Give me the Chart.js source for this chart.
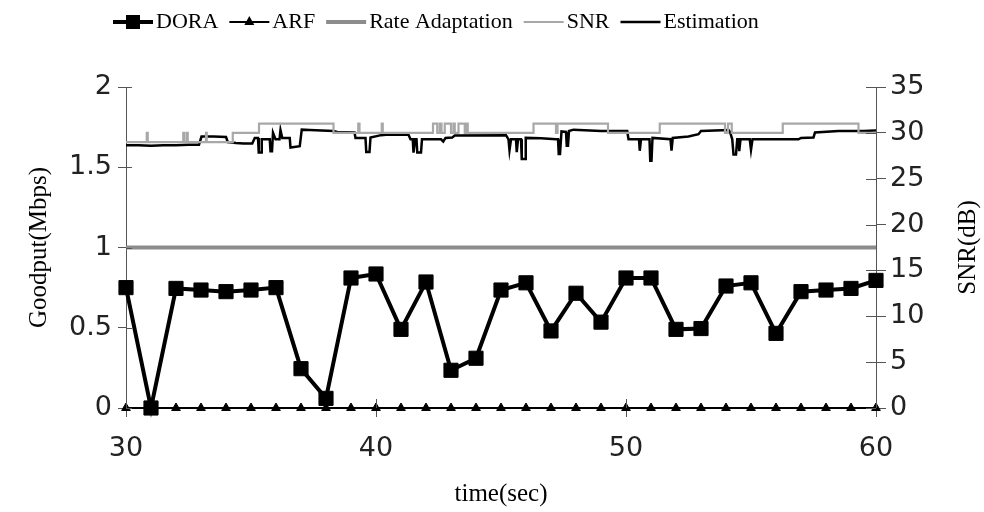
<!DOCTYPE html>
<html>
<head>
<meta charset="utf-8">
<script src="https://cdn.jsdelivr.net/npm/chart.js@4.4.0/dist/chart.umd.min.js"></script>
<style>
  html, body { margin: 0; padding: 0; background: #fff; }
  #wrap { width: 984px; height: 512px; }
</style>
</head>
<body>
<div id="wrap"><canvas id="goodputChart" width="984" height="512"></canvas></div>
<script>
// Data
const seconds = [30, 31, 32, 33, 34, 35, 36, 37, 38, 39, 40, 41, 42, 43, 44, 45,
  46, 47, 48, 49, 50, 51, 52, 53, 54, 55, 56, 57, 58, 59, 60];
const doraGoodput = [0.75, 0, 0.745, 0.735, 0.725, 0.735, 0.75, 0.245, 0.06, 0.81, 0.835, 0.49,
  0.785, 0.235, 0.31, 0.735, 0.78, 0.48, 0.715, 0.535, 0.81, 0.81, 0.49, 0.495, 0.76, 0.78,
  0.465, 0.725, 0.735, 0.745, 0.795];
const arfGoodput = [0, 0, 0, 0, 0, 0, 0, 0, 0, 0, 0, 0, 0, 0, 0, 0,
  0, 0, 0, 0, 0, 0, 0, 0, 0, 0, 0, 0, 0, 0, 0];
const rateAdaptGoodput = [1, 1, 1, 1, 1, 1, 1, 1, 1, 1, 1, 1, 1, 1, 1, 1,
  1, 1, 1, 1, 1, 1, 1, 1, 1, 1, 1, 1, 1, 1, 1];

// SNR is a step signal: time of each change and the level from there on
const snrTime = [30, 30.83, 30.87, 32.29, 32.33, 32.43, 32.47, 33.2, 33.23, 34.27, 35.32, 38.3,
  39.29, 39.34, 40.23, 40.27, 42.28, 42.45, 42.55, 42.62, 42.75, 43.0, 43.1, 43.15, 43.3, 43.55,
  43.62, 43.67, 46.3, 47.2, 47.26, 49.28, 51.35, 53.96, 54.08, 54.23, 56.27, 59.3, 60];
const snrDb = [29, 30, 29, 30, 29, 30, 29, 30, 29, 30, 31, 30,
  31, 30, 31, 30, 31, 30, 31, 30, 31, 30, 31, 30, 31, 30,
  31, 30, 31, 30, 31, 30, 31, 30, 31, 30, 31, 30, 30];

const estTime = [30, 30.5, 31, 31.5, 32, 32.5, 32.92, 33.02, 33.5, 34, 34.07, 34.4, 34.7, 35.05,
  35.15, 35.28, 35.31, 35.4, 35.43, 35.75, 35.78, 35.84, 35.88, 35.98, 36.14, 36.18, 36.25, 36.55,
  36.58, 36.95, 37.03, 37.35, 38.3, 38.45, 39.14, 39.18, 39.58, 39.61, 39.74, 39.78, 40.2, 40.4,
  41.3, 41.38, 41.47, 41.5, 41.56, 41.62, 41.65, 41.8, 41.84, 42.6, 42.69, 42.78, 43.05, 43.15,
  45.2, 45.3, 45.34, 45.4, 45.6, 45.63, 45.68, 45.8, 45.83, 45.96, 45.99, 46.6, 47.2, 47.28,
  47.31, 47.36, 47.42, 47.6, 47.63, 47.68, 47.72, 47.9, 49, 50.05, 50.1, 50.52, 50.55, 50.6,
  50.94, 50.97, 51.02, 51.06, 51.78, 51.82, 51.87, 52.5, 52.9, 53, 54.1, 54.16, 54.25, 54.3,
  54.4, 54.45, 54.5, 54.53, 54.58, 54.95, 55, 55.06, 56.9, 57, 57.5, 57.56, 58.5, 59.5, 60];
const estDb = [28.65, 28.65, 28.6, 28.65, 28.65, 28.7, 28.7, 29.6, 29.6, 29.55, 29.0, 28.9, 28.85, 28.85,
  29.45, 29.45, 27.85, 27.85, 29.3, 29.3, 28.0, 28.0, 30.0, 29.3, 29.3, 30.3, 29.45, 29.45,
  28.4, 28.55, 30.35, 30.3, 30.2, 30.1, 30.05, 29.45, 29.45, 27.9, 27.9, 29.5, 29.75, 29.8,
  29.8, 29.3, 29.3, 27.85, 29.3, 29.3, 27.85, 27.85, 29.3, 29.3, 29.05, 29.45, 29.5, 29.7,
  29.75, 29.3, 28.1, 29.3, 29.3, 27.9, 29.3, 29.3, 27.15, 27.15, 29.45, 29.4, 29.3, 29.3,
  27.7, 27.7, 30.15, 30.1, 28.6, 28.6, 30.2, 30.35, 30.2, 30.2, 29.3, 29.3, 28.05, 29.3,
  29.3, 26.95, 26.95, 29.45, 29.3, 28.05, 29.45, 29.6, 29.85, 30.2, 30.3, 30.1, 29.3, 27.65,
  27.65, 29.3, 29.3, 28.0, 29.3, 29.3, 28.15, 29.3, 29.3, 29.45, 29.5, 30.05, 30.2, 30.2, 30.25];

const timeTicks = [30, 40, 50, 60];
const goodputTicks = [0, 0.5, 1, 1.5, 2];
const snrTicks = [0, 5, 10, 15, 20, 25, 30, 35];

const toPoints = (xs, ys) => xs.map((x, i) => ({ x: x, y: ys[i] }));
const setTicks = list => scale => { scale.ticks = list.map(v => ({ value: v })); };
const plainLabel = v => String(v);

const axisColor = '#555';
const tickFont = { family: 'DejaVu Sans', size: 27 };
const titleFont = { family: 'Liberation Serif', size: 25 };

// Legend drawn across the top, line sample + marker + text
const topLegend = {
  id: 'topLegend',
  afterDraw(chart) {
    const ctx = chart.ctx;
    const y = 22;
    let x = 113;
    ctx.save();
    ctx.font = '22px "Liberation Serif"';
    ctx.textBaseline = 'middle';
    chart.data.datasets.forEach(ds => {
      ctx.strokeStyle = ds.borderColor;
      ctx.lineWidth = ds.borderWidth;
      ctx.beginPath();
      ctx.moveTo(x, y);
      ctx.lineTo(x + 40, y);
      ctx.stroke();
      ctx.fillStyle = ds.borderColor;
      if (ds.pointStyle === 'rect') {
        ctx.fillRect(x + 13, y - 7, 14, 14);
      } else if (ds.pointStyle === 'triangle') {
        ctx.beginPath();
        ctx.moveTo(x + 20, y - 6);
        ctx.lineTo(x + 25, y + 3);
        ctx.lineTo(x + 15, y + 3);
        ctx.closePath();
        ctx.fill();
      }
      ctx.fillStyle = '#000';
      ctx.fillText(ds.label, x + 43, y);
      x += 43 + ctx.measureText(ds.label).width + 11;
    });
    ctx.restore();
  }
};

// Tick marks that cross the axis lines, plus the right axis title reading upward
const axisExtras = {
  id: 'axisExtras',
  afterDraw(chart) {
    const ctx = chart.ctx;
    const area = chart.chartArea;
    const sx = chart.scales.x, sy = chart.scales.y, sy2 = chart.scales.y2;
    ctx.save();
    ctx.strokeStyle = axisColor;
    ctx.lineWidth = 1;
    ctx.beginPath();
    sy.ticks.forEach(t => {
      const py = Math.round(sy.getPixelForValue(t.value)) + 0.5;
      ctx.moveTo(area.left, py);
      ctx.lineTo(area.left + 6, py);
    });
    sy2.ticks.forEach(t => {
      const py = Math.round(sy2.getPixelForValue(t.value)) + 0.5;
      ctx.moveTo(area.right - 10, py);
      ctx.lineTo(area.right, py);
    });
    sx.ticks.forEach(t => {
      const px = Math.round(sx.getPixelForValue(t.value)) + 0.5;
      ctx.moveTo(px, area.bottom - 9);
      ctx.lineTo(px, area.bottom);
    });
    ctx.stroke();

    ctx.translate(chart.width - 16, (area.top + area.bottom) / 2);
    ctx.rotate(-Math.PI / 2);
    ctx.font = '25px "Liberation Serif"';
    ctx.fillStyle = '#000';
    ctx.textAlign = 'center';
    ctx.textBaseline = 'middle';
    ctx.fillText('SNR(dB)', 0, 0);
    ctx.restore();
  }
};

const ctx = document.getElementById('goodputChart').getContext('2d');

new Chart(ctx, {
  type: 'line',
  data: {
    datasets: [{
      label: 'DORA',
      data: toPoints(seconds, doraGoodput),
      yAxisID: 'y',
      borderColor: '#000',
      backgroundColor: '#000',
      borderWidth: 4,
      pointStyle: 'rect',
      pointRadius: 10,
      pointBorderWidth: 1,
      clip: false
    }, {
      label: 'ARF',
      data: toPoints(seconds, arfGoodput),
      yAxisID: 'y',
      borderColor: '#000',
      backgroundColor: '#000',
      borderWidth: 2,
      pointStyle: 'triangle',
      pointRadius: 5,
      pointBorderWidth: 1,
      clip: false
    }, {
      label: 'Rate Adaptation',
      data: toPoints(seconds, rateAdaptGoodput),
      yAxisID: 'y',
      borderColor: '#8c8c8c',
      borderWidth: 4,
      pointRadius: 0
    }, {
      label: 'SNR',
      data: toPoints(snrTime, snrDb),
      yAxisID: 'y2',
      stepped: 'before',
      borderColor: '#a8a8a8',
      borderWidth: 2.2,
      pointRadius: 0
    }, {
      label: 'Estimation',
      data: toPoints(estTime, estDb),
      yAxisID: 'y2',
      borderColor: '#000',
      borderWidth: 2.5,
      pointRadius: 0
    }]
  },
  options: {
    responsive: false,
    animation: false,
    devicePixelRatio: 1,
    layout: { padding: { top: 87, left: 0, right: 0, bottom: 0 } },
    elements: { line: { tension: 0 } },
    plugins: {
      legend: { display: false },
      tooltip: { enabled: false }
    },
    scales: {
      x: {
        type: 'linear',
        min: 30,
        max: 60,
        afterBuildTicks: setTicks(timeTicks),
        afterFit: s => { s.height = 104; },
        grid: { drawOnChartArea: false, tickLength: 9, color: axisColor },
        border: { color: axisColor },
        ticks: { font: tickFont, color: '#222', padding: 16, maxRotation: 0, callback: plainLabel },
        title: { display: true, text: 'time(sec)', font: titleFont, color: '#000', padding: { bottom: 3 } }
      },
      y: {
        position: 'left',
        min: 0,
        max: 2,
        afterBuildTicks: setTicks(goodputTicks),
        afterFit: s => { s.width = 126; },
        grid: { drawOnChartArea: false, tickLength: 8, color: axisColor },
        border: { color: axisColor },
        ticks: { font: tickFont, color: '#222', padding: 6, callback: plainLabel },
        title: { display: true, text: 'Goodput(Mbps)', font: titleFont, color: '#000', padding: { top: 24 } }
      },
      y2: {
        position: 'right',
        min: 0,
        max: 35,
        afterBuildTicks: setTicks(snrTicks),
        afterFit: s => { s.width = 108; },
        grid: { drawOnChartArea: false, tickLength: 10, color: axisColor },
        border: { color: axisColor },
        ticks: { font: tickFont, color: '#222', padding: 4, callback: plainLabel }
      }
    }
  },
  plugins: [topLegend, axisExtras]
});
</script>
</body>
</html>
